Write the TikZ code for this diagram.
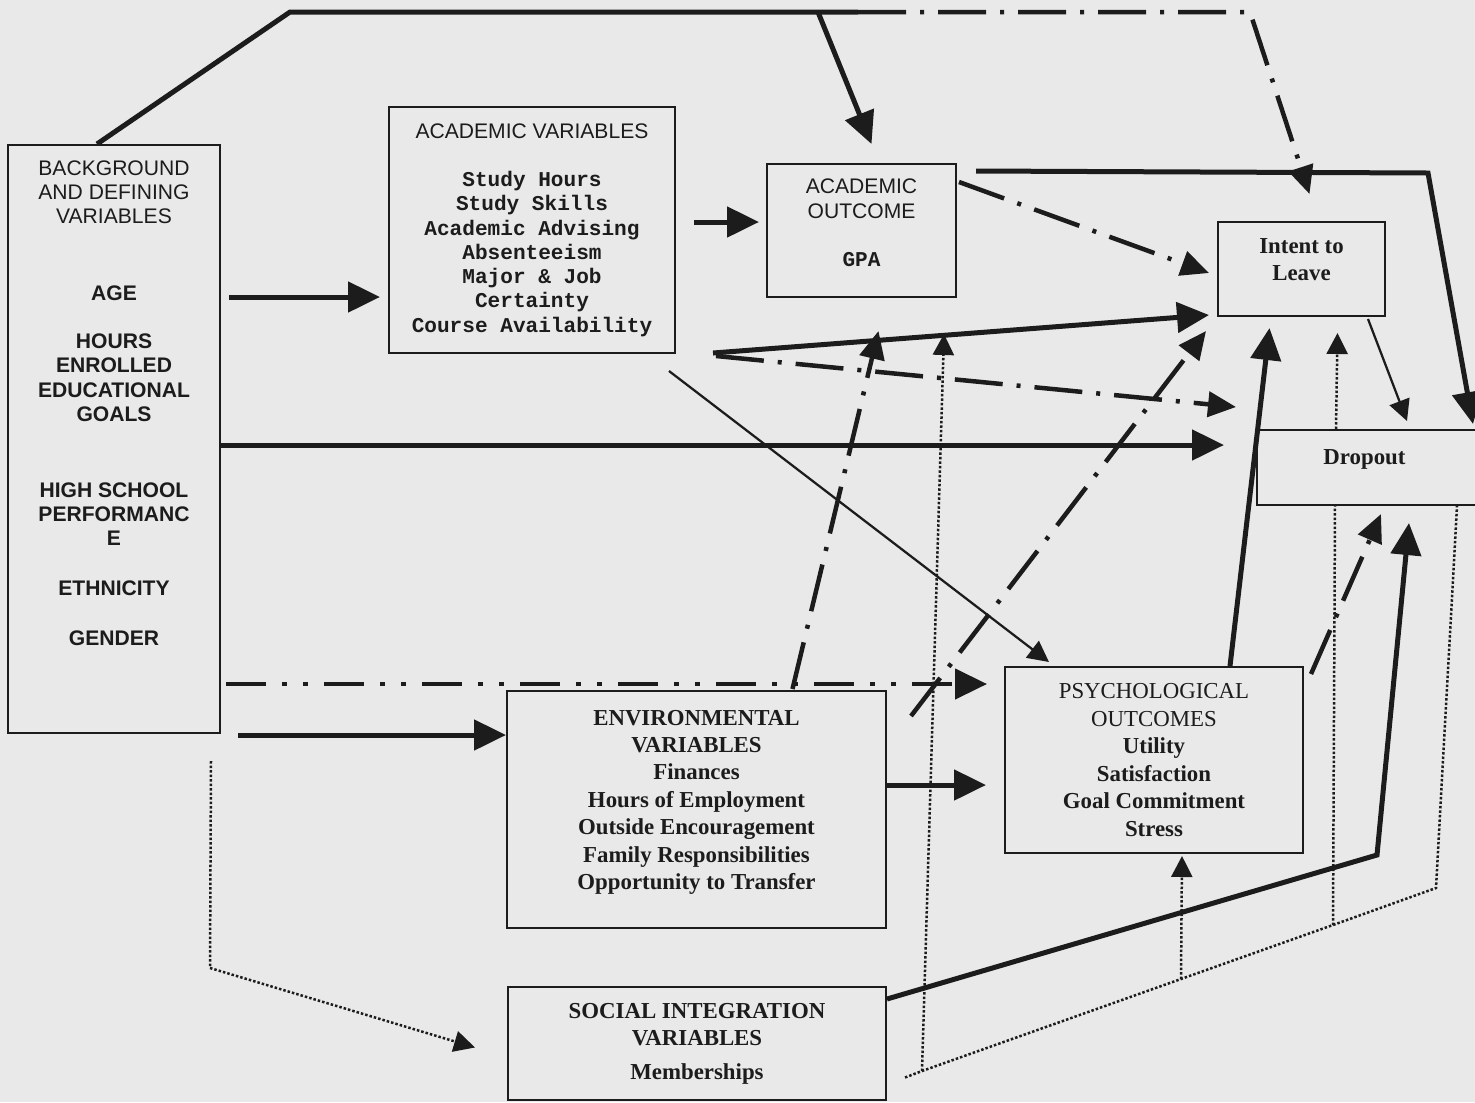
\documentclass[tikz,border=0pt]{standalone}
\usepackage{fontspec}
\setmainfont{Liberation Serif}
\setsansfont{Liberation Sans}
\setmonofont{Liberation Mono}
\usetikzlibrary{arrows.meta,calc}
\definecolor{paper}{RGB}{233,233,233}
\definecolor{ink}{RGB}{28,28,28}

\begin{document}
\begin{tikzpicture}[x=0.2mm, y=-0.2mm, line join=miter,
    box/.style={rectangle, draw=ink, line width=0.4mm, align=center, inner sep=0pt, text=ink},
    arial/.style={font=\sffamily\fontsize{12}{13.8}\selectfont},
    courier/.style={font=\ttfamily\bfseries\fontsize{12}{13.8}\selectfont},
    times/.style={font=\rmfamily\bfseries\fontsize{13}{15.6}\selectfont},
    heavy/.style={draw=ink, line width=1mm},
    dashdot/.style={draw=ink, line width=0.9mm, dash pattern=on 9.6mm off 2.8mm on 0.8mm off 2.8mm},
    dashdotdot/.style={draw=ink, line width=0.9mm, dash pattern=on 8mm off 3.2mm on 1mm off 3.2mm on 1mm off 3.2mm},
    dots/.style={draw=ink, line width=0.5mm, dash pattern=on 0.5mm off 0.4mm},
    slim/.style={draw=ink, line width=0.45mm},
    bigtip/.style={-{Triangle[length=6.4mm,width=6mm]}},
    midtip/.style={-{Triangle[length=5.6mm,width=5mm]}},
    smalltip/.style={-{Triangle[length=4.2mm,width=4.2mm]}},
  ]
        \path[use as bounding box, fill=paper] (0, 0) rectangle (1475, 1102);
        \clip (0, 0) rectangle (1475, 1102);

        % boxes
        \draw (114, 439) node(bg)[box, arial, minimum width = 42.4mm, minimum height = 117.6mm]{BACKGROUND\\AND DEFINING\\VARIABLES\\[29.5pt]
            \bfseries AGE\\[13.8pt]
            \bfseries HOURS\\\bfseries ENROLLED\\\bfseries EDUCATIONAL\\\bfseries GOALS\\[29.5pt]
            \bfseries HIGH SCHOOL\\\bfseries PERFORMANC\\\bfseries E\\[14.4pt]
            \bfseries ETHNICITY\\[14.4pt]
            \bfseries GENDER\\[9.6mm]};
        \draw (532, 230) node(acad)[box, courier, minimum width = 57.2mm, minimum height = 49.2mm]{\sffamily\mdseries ACADEMIC VARIABLES\\[13.8pt]
            Study Hours\\Study Skills\\Academic Advising\\Absenteeism\\Major \& Job\\Certainty\\Course Availability};
        \draw (861.5, 230.5) node(aout)[box, arial, minimum width = 37.8mm, minimum height = 26.6mm]{ACADEMIC\\OUTCOME\\[13.8pt]\ttfamily\bfseries GPA\\[-1.8mm]};
        \draw (1301.5, 269) node(intent)[box, times, minimum width = 33.4mm, minimum height = 18.8mm]{Intent to\\Leave\\[-1.8mm]};
        \draw (1376, 467.5) node(drop)[box, times, minimum width = 47.6mm, minimum height = 15mm]{\hspace*{-4.6mm}Dropout\\[-1.4mm]};
        \draw (1154, 760) node(psych)[box, times, minimum width = 59.6mm, minimum height = 37.2mm]{\mdseries PSYCHOLOGICAL\\\mdseries OUTCOMES\\Utility\\Satisfaction\\Goal Commitment\\Stress};
        \draw (696.5, 809.5) node(env)[box, times, minimum width = 75.8mm, minimum height = 47.4mm]{ENVIRONMENTAL\\VARIABLES\\Finances\\Hours of Employment\\Outside Encouragement\\Family Responsibilities\\Opportunity to Transfer\\[-1.6mm]};
        \draw (697, 1043.5) node(social)[box, times, minimum width = 75.6mm, minimum height = 22.6mm]{SOCIAL INTEGRATION\\VARIABLES\\[1.2mm]Memberships};

        % top loop
        \coordinate (fork) at (818, 12);
        \coordinate (split) at (858, 12);
        \draw[heavy] ($(bg.north)+(-17,0)$) -- (290, 12) -- (split);
        \draw[heavy, bigtip] (fork) -- ($(aout.north)+(10,-19)$);
        \draw[dashdot, midtip] (split) -- (1250, 12) -- ($(intent.north)+(8,-27)$);

        % straight arrows
        \draw[heavy, bigtip, shorten <=1.6mm, shorten >=1.6mm] (bg.east |- 0,297) -- (acad.west |- 0,297);
        \draw[heavy, bigtip, shorten <=3.6mm, shorten >=1.4mm] (acad.east |- 0,222) -- (aout.west |- 0,222);
        \draw[heavy, bigtip, shorten >=6.4mm] (bg.east |- 0,445) -- (drop.west |- 0,445);
        \draw[dashdotdot, bigtip, shorten <=1mm, shorten >=3.4mm] (bg.east |- 0,684) -- (psych.west |- 0,684);
        \draw[heavy, bigtip, shorten <=3.4mm] (bg.east |- 0,735) -- (env.west |- 0,735);
        \draw[heavy, bigtip, shorten >=3.6mm] (env.east |- 0,785) -- (psych.west |- 0,785);

        % to intent and dropout
        \draw[heavy, bigtip] ($(aout.north east)+(19,8)$) -- (1428, 173) -- ($(drop.north east)+(-23,-5)$);
        \draw[dashdot, midtip] ($(aout.north east)+(2,19)$) -- ($(intent.west)+(-8,4)$);
        \draw[heavy, bigtip] ($(acad.south east)+(37,-1)$) -- ($(intent.south west)+(-8,-2)$);
        \draw[dashdot, midtip] ($(acad.south east)+(40,2)$) -- ($(drop.north west)+(-20,-22)$);
        \draw[slim, smalltip] ($(acad.south east)+(-7,17)$) -- ($(psych.north west)+(45,-4)$);
        \draw[dashdot, midtip] ($(env.north)+(96,-1)$) -- ($(aout.south)+(17,33)$);
        \draw[dashdot, midtip] ($(env.north east)+(24,26)$) -- ($(intent.south west)+(-11,14)$);
        \draw[heavy, bigtip] ($(psych.north)+(76,0)$) -- ($(intent.south)+(-32,11)$);
        \draw[dashdot, midtip] ($(psych.north east)+(7,8)$) -- ($(drop.south west)+(125,8)$);
        \draw[heavy, bigtip] ($(social.north east)+(0,13)$) -- (1377, 855) -- ($(drop.south west)+(153,17)$);
        \draw[slim, smalltip] ($(intent.south east)+(-18,2)$) -- ($(drop.north west)+(151,-8)$);

        % dotted links
        \draw[dots, smalltip] ($(bg.south east)+(-10,27)$) -- (210, 968) -- ($(social.west)+(-32,4)$);
        \coordinate (b1) at (922, 1071);
        \coordinate (b2) at (1181, 979);
        \coordinate (b3) at (1333, 925);
        \coordinate (b4) at (1436, 888);
        \draw[dots] ($(social.east)+(18,34)$) -- (b1) -- (b2) -- (b3) -- (b4) -- ($(drop.south west)+(201,0)$);
        \draw[dots, smalltip] (b1) -- ($(aout.south east)+(-13,36)$);
        \draw[dots, smalltip] (b2) -- ($(psych.south)+(28,2)$);
        \draw[dots] (b3) -- ($(drop.south west)+(79,0)$);
        \draw[dots, smalltip] ($(drop.north west)+(80,0)$) -- ($(intent.south)+(36,16)$);
\end{tikzpicture}
\end{document}
